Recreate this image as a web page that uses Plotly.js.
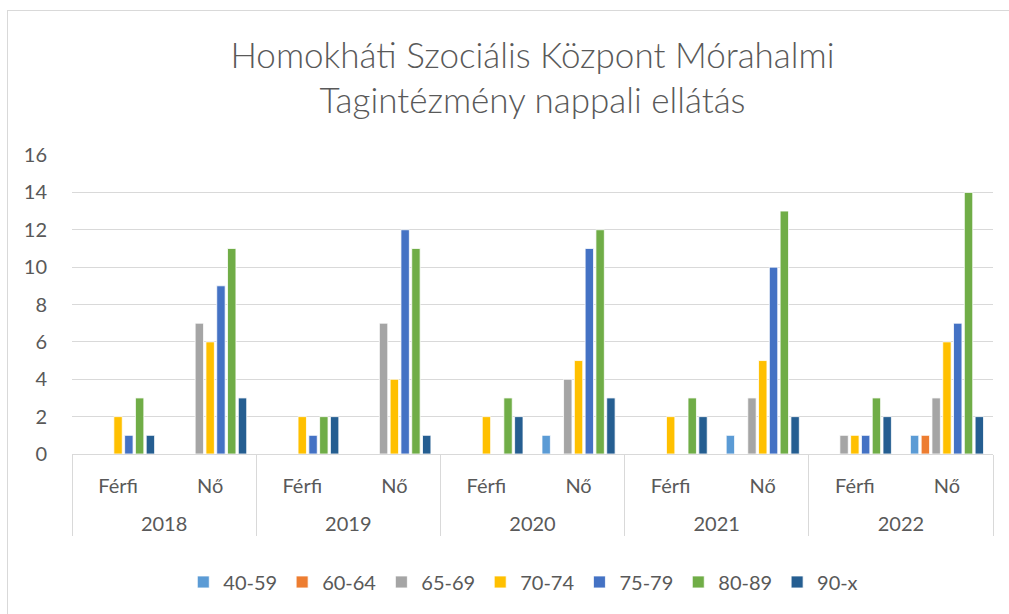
<!DOCTYPE html>
<html>
<head>
<meta charset="utf-8">
<script src="https://cdn.plot.ly/plotly-3.0.1.min.js"></script>
<style>
  html, body { margin: 0; padding: 0; background: #fff; }
  #frame { position: absolute; left: 7px; top: 10px; width: 1010px; height: 610px; border: 1px solid #d9d9d9; box-sizing: border-box; }
  #chart { position: absolute; left: 0; top: 0; width: 1009px; height: 614px; }
</style>
</head>
<body>
<div id="frame"></div>
<div id="chart"></div>
<script>
const years = ["2018", "2018", "2019", "2019", "2020", "2020", "2021", "2021", "2022", "2022"];
const sexes = ["Férfi", "Nő", "Férfi", "Nő", "Férfi", "Nő", "Férfi", "Nő", "Férfi", "Nő"];
const seriesNames = ["40-59", "60-64", "65-69", "70-74", "75-79", "80-89", "90-x"];
const v40_59 = [0, 0, 0, 0, 0, 1, 0, 1, 0, 1];
const v60_64 = [0, 0, 0, 0, 0, 0, 0, 0, 0, 1];
const v65_69 = [0, 7, 0, 7, 0, 4, 0, 3, 1, 3];
const v70_74 = [2, 6, 2, 4, 2, 5, 2, 5, 1, 6];
const v75_79 = [1, 9, 1, 12, 0, 11, 0, 10, 1, 7];
const v80_89 = [3, 11, 2, 11, 3, 12, 3, 13, 3, 14];
const v90_x  = [1, 3, 2, 1, 2, 3, 2, 2, 2, 2];
const colors = ["#5B9BD5", "#ED7D31", "#A5A5A5", "#FFC000", "#4472C4", "#70AD47", "#255E91"];
const allValues = [v40_59, v60_64, v65_69, v70_74, v75_79, v80_89, v90_x];

// first-level labels get an empty second line so the year row sits lower (as in Excel)
const sexLabels = sexes.map(s => s + "<br>\u00a0");

const font = "Lato, 'Open Sans', sans-serif";
const traces = seriesNames.map((name, i) => ({
  type: "bar",
  name: name,
  x: [years, sexLabels],
  y: allValues[i],
  marker: { color: colors[i], line: { color: "#ffffff", width: 0.8 } },
  hovertemplate: "%{y}<extra>" + name + "</extra>"
}));

const layout = {
  width: 1009,
  height: 614,
  paper_bgcolor: "rgba(0,0,0,0)",
  plot_bgcolor: "rgba(0,0,0,0)",
  margin: { l: 72, r: 16, t: 155, b: 160 },
  font: { family: font, color: "#595959", size: 20 },
  title: {
    text: "Homokháti Szociális Központ Mórahalmi<br>Tagintézmény nappali ellátás",
    font: { family: font, size: 35, color: "#595959", weight: 300 },
    x: 0.5, xref: "paper", y: 0.89, yref: "container", yanchor: "top"
  },
  barmode: "group",
  bargap: 0.18,
  bargroupgap: 0.22,
  xaxis: {
    type: "multicategory",
    showline: true, linecolor: "#d9d9d9", linewidth: 1,
    showdividers: true, dividercolor: "#d9d9d9", dividerwidth: 1,
    tickfont: { size: 20, color: "#595959" },
    ticks: "", ticklabelstandoff: 14,
    showgrid: false, zeroline: false
  },
  yaxis: {
    range: [0, 16], dtick: 2, tick0: 0,
    showgrid: true, gridcolor: "#d9d9d9", gridwidth: 1,
    zeroline: false, showline: false,
    ticks: "outside", ticklen: 20, tickcolor: "rgba(0,0,0,0)",
    tickfont: { size: 20, color: "#595959" }
  },
  legend: {
    orientation: "h", x: 0.49, xanchor: "center", y: -0.428, yanchor: "middle",
    font: { size: 20, color: "#595959" },
    itemwidth: 30, traceorder: "normal"
  },
  showlegend: true
};

Plotly.newPlot("chart", traces, layout, { displayModeBar: false });
</script>
</body>
</html>
